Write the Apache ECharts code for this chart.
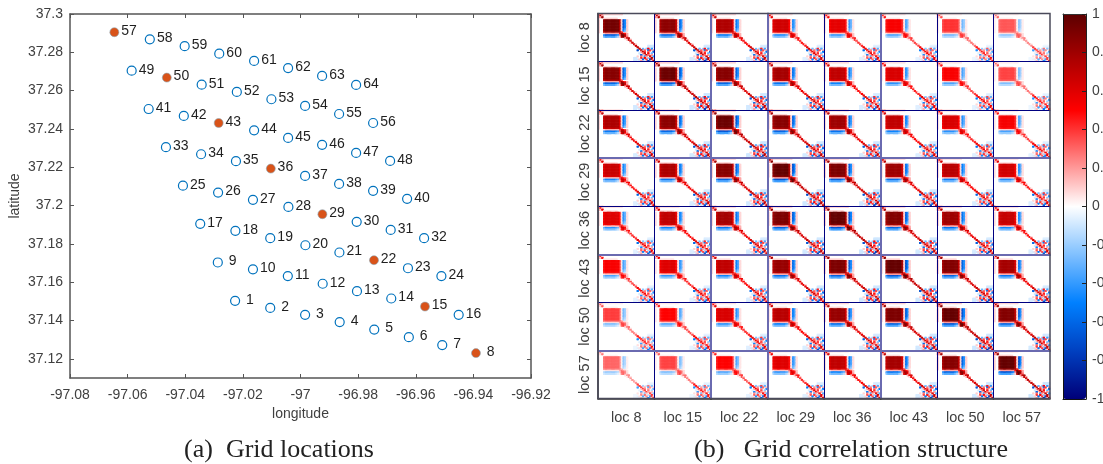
<!DOCTYPE html>
<html><head><meta charset="utf-8">
<style>html,body{margin:0;padding:0;background:#fff;overflow:hidden}#c{width:1103px;height:464px}</style>
<script src="https://cdn.jsdelivr.net/npm/echarts@6/dist/echarts.min.js"></script>
</head><body><div id="c"></div>
<script>
// ---------- Grid locations (panel a) ----------
const gridIds = [1,2,3,4,5,6,7,8,9,10,11,12,13,14,15,16,17,18,19,20,21,22,23,24,25,26,27,28,29,30,31,32,33,34,35,36,37,38,39,40,41,42,43,44,45,46,47,48,49,50,51,52,53,54,55,56,57,58,59,60,61,62,63,64];
const lons = [-97.0227,-97.0105,-96.9984,-96.9864,-96.9744,-96.9624,-96.9508,-96.9391,
 -97.0287,-97.0165,-97.0044,-96.9923,-96.9804,-96.9685,-96.9568,-96.9451,
 -97.0348,-97.0226,-97.0105,-96.9983,-96.9865,-96.9745,-96.9627,-96.9511,
 -97.0408,-97.0286,-97.0165,-97.0042,-96.9924,-96.9805,-96.9687,-96.9571,
 -97.0467,-97.0345,-97.0224,-97.0103,-96.9984,-96.9866,-96.9748,-96.9630,
 -97.0527,-97.0405,-97.0284,-97.0161,-97.0043,-96.9925,-96.9807,-96.9689,
 -97.0586,-97.0464,-97.0343,-97.0221,-97.0101,-96.9984,-96.9866,-96.9748,
 -97.0646,-97.0523,-97.0402,-97.0282,-97.0161,-97.0043,-96.9925,-96.9807];
const lats = [37.1503,37.1466,37.1430,37.1392,37.1353,37.1313,37.1272,37.1230,
 37.1703,37.1667,37.1632,37.1592,37.1553,37.1515,37.1473,37.1430,
 37.1905,37.1868,37.1830,37.1793,37.1755,37.1715,37.1673,37.1632,
 37.2104,37.2068,37.2030,37.1993,37.1955,37.1915,37.1873,37.1830,
 37.2305,37.2268,37.2232,37.2193,37.2155,37.2113,37.2077,37.2035,
 37.2504,37.2468,37.2431,37.2393,37.2353,37.2317,37.2275,37.2233,
 37.2704,37.2668,37.2631,37.2593,37.2555,37.2520,37.2478,37.2431,
 37.2905,37.2868,37.2832,37.2793,37.2755,37.2718,37.2677,37.2630];
const highlighted = [8,15,22,29,36,43,50,57];
const lonTicks = [-97.08,-97.06,-97.04,-97.02,-97,-96.98,-96.96,-96.94,-96.92];
const latTicks = [37.12,37.14,37.16,37.18,37.2,37.22,37.24,37.26,37.28,37.3];

// ---------- Correlation structure (panel b) ----------
const locNames = ['loc 8','loc 15','loc 22','loc 29','loc 36','loc 43','loc 50','loc 57'];
// block strength of each of the 8x8 panels, read from its red block
const panelLevels = [
 [.93,.85,.75,.65,.58,.52,.40,.33],
 [.87,.95,.87,.78,.70,.62,.52,.37],
 [.76,.85,.95,.87,.80,.70,.62,.53],
 [.67,.76,.87,.97,.90,.80,.72,.65],
 [.60,.70,.78,.90,.97,.88,.80,.68],
 [.52,.60,.70,.82,.90,.97,.88,.78],
 [.38,.50,.62,.72,.82,.90,.97,.88],
 [.30,.37,.50,.60,.70,.78,.87,.97]];
// strength of the speckled lower-right corner, by panel distance from the diagonal
const speckleLevels = [1,.95,.9,.85,.8,.75,.65,.55];
// one matrix layout: . = 0, a..j = +0.1..+1, A..J = -0.1..-1
const matrixRows = [
 "ibcaaaaaaaaaaa..................",
 "bhb.............................",
 "cbi.............................",
 "...aaaaaaaa.....................",
 "a..ijjjjjjjjhaGEa...............",
 "a..ijjjjjjjjhaGEa...............",
 "a..ijjjjjjjjhaGEa...............",
 "a..ijjjjjjjjhaGEa...............",
 "a..ijjjjjjjjhaGEa...............",
 "a..ijjjjjjjjhaGEa...............",
 "a..ijjjjjjjjhaFDa...............",
 "a..ijjjjjjjjhaECa...............",
 "a..hiiiiiiiihd..................",
 "...abbbbbbbbeigeb...............",
 "...EGGGGGGFEcjjhb...............",
 "...CDDDDDDCBahjgc...............",
 "...............bgh..............",
 "................agb.............",
 "..................g.............",
 "..................ag............",
 "....................ga..........",
 ".....................g......AAAA",
 "......................g.....AAAA",
 ".......................g.C.Be.D.",
 "......................G.g.c.Fd.b",
 "........................bgd.c..F",
 ".......................A.bg.e.C.",
 "........................F.bgc.b.",
 "......................a.c.Db.g.D",
 "....................AA..d.e.Bbg.",
 "....................AAAa.F.d.Ggb",
 "....................AA.Ab.A.H.ag"];
// each layout cell is drawn as this many finer matrix cells per side
const cellsPerLayoutCell = 2;
// frame line between panels: navy or lavender as resampled in the picture
const rowLines = [['#000080',1],['#000080',1],['#6a6ab0',2],['#000080',1],['#6a6ab0',2],['#000080',1],['#6a6ab0',2],['#333333',1.5]];
const colLines = [['#333333',1.5],['#000080',1],['#6a6ab0',2],['#6a6ab0',2],['#000080',1],['#6a6ab0',2],['#000080',1],['#000080',1]];
const colorStops = ['#000078','#0040c0','#0080ff','#80c0ff','#ffffff','#ff8080','#ff0000','#b00000','#5c0000'];
const cbTicks = [-1,-0.8,-0.6,-0.4,-0.2,0,0.2,0.4,0.6,0.8,1];

function charValue(ch){
  if(ch==='.'||ch===undefined) return 0;
  const lo='abcdefghij'.indexOf(ch);
  if(lo>=0) return (lo+1)/10;
  return -('ABCDEFGHIJ'.indexOf(ch)+1)/10;
}
function panelData(i,j){
  const out=[], L=panelLevels[i][j], S=speckleLevels[Math.abs(i-j)], k=cellsPerLayoutCell;
  matrixRows.forEach((row,r)=>{
    for(let c=0;c<row.length;c++){
      const b=charValue(row[c]);
      if(b===0) continue;
      const v=+(b*(r>=22&&c>=22?S:L)).toFixed(3);
      for(let a=0;a<k;a++)for(let d=0;d<k;d++) out.push([c*k+d,r*k+a,v]);
    }
  });
  return out;
}

const axisGrey='#555555', textGrey='#404040', labelFont='"Liberation Sans",Arial,sans-serif';
const cats=[];for(let q=0;q<matrixRows.length*cellsPerLayoutCell;q++)cats.push(q);
const P={left:598,top:13.5,w:56.5,h:48.15};

const grids=[{left:70,top:14,width:461,height:364,show:false,outerBoundsMode:'none'},{left:1063,top:14,width:23,height:385,show:false,outerBoundsMode:'none'}];
const tickStyle={show:true,inside:true,length:4,lineStyle:{color:axisGrey}};
const lineStyle={show:true,onZero:false,lineStyle:{color:axisGrey,width:1.5}};
const xAxes=[
 {gridIndex:0,type:'value',min:-97.08,max:-96.92,axisLine:lineStyle,axisTick:{...tickStyle,customValues:lonTicks},splitLine:{show:false},
  axisLabel:{customValues:lonTicks,color:textGrey,fontFamily:labelFont,fontSize:14,margin:10,formatter:v=>String(v),hideOverlap:false,showMinLabel:true,showMaxLabel:true},
  name:'longitude',nameLocation:'middle',nameGap:28,nameTextStyle:{color:textGrey,fontFamily:labelFont,fontSize:14}},
 {gridIndex:0,type:'value',position:'top',min:-97.08,max:-96.92,axisLine:lineStyle,axisTick:{...tickStyle,customValues:lonTicks},axisLabel:{show:false},splitLine:{show:false}},
 {gridIndex:1,type:'category',data:[0],z:20,axisLine:{show:true,onZero:false,lineStyle:{color:'#111',width:1}},axisTick:{show:false},axisLabel:{show:false}},
 {gridIndex:1,type:'category',position:'top',data:[0],z:20,axisLine:{show:true,onZero:false,lineStyle:{color:'#333',width:1}},axisTick:{show:false},axisLabel:{show:false}}];
const yAxes=[
 {gridIndex:0,type:'value',min:37.11,max:37.3,axisLine:lineStyle,axisTick:{...tickStyle,customValues:latTicks},splitLine:{show:false},
  axisLabel:{customValues:latTicks,color:textGrey,fontFamily:labelFont,fontSize:14,margin:7,formatter:v=>String(v)},
  name:'latitude',nameLocation:'middle',nameGap:48,nameTextStyle:{color:textGrey,fontFamily:labelFont,fontSize:14}},
 {gridIndex:0,type:'value',position:'right',min:37.11,max:37.3,axisLine:lineStyle,axisTick:{...tickStyle,customValues:latTicks},axisLabel:{show:false},splitLine:{show:false}},
 {gridIndex:1,type:'value',position:'right',min:-1,max:1,axisLine:{show:true,onZero:false,lineStyle:{color:'#222',width:1}},axisTick:{show:true,inside:true,length:4,customValues:cbTicks,lineStyle:{color:'#222'}},splitLine:{show:false},z:20,
  axisLabel:{customValues:cbTicks,color:textGrey,fontFamily:labelFont,fontSize:14,margin:6,align:'left',formatter:v=>String(v)}},
 {gridIndex:1,type:'value',position:'left',min:-1,max:1,axisLine:{show:true,onZero:false,lineStyle:{color:'#111',width:1}},axisTick:{show:false},axisLabel:{show:false},splitLine:{show:false},z:20}];

const isHi=id=>highlighted.includes(id);
const pts=f=>gridIds.filter(f).map(id=>{const k=gridIds.indexOf(id);return {value:[lons[k],lats[k]],name:String(id)};});
const pointLabel={show:true,position:'right',distance:2,offset:[0,-1],color:'#1f1f1f',fontFamily:labelFont,fontSize:14,
  formatter:p=>(p.name.length<2?' ':'')+p.name};
const series=[
 {type:'scatter',name:'grid',xAxisIndex:0,yAxisIndex:0,data:pts(id=>!isHi(id)),symbol:'circle',symbolSize:9,
  itemStyle:{color:'#ffffff',borderColor:'#0072BD',borderWidth:1.2,opacity:1},label:pointLabel,silent:true},
 {type:'scatter',name:'selected',xAxisIndex:0,yAxisIndex:0,data:pts(isHi),symbol:'circle',symbolSize:9,
  itemStyle:{color:'#D95319',borderColor:'#8aa7b8',borderWidth:.6,opacity:1},label:pointLabel,silent:true},
 {type:'scatter',name:'cb',xAxisIndex:2,yAxisIndex:2,data:[],silent:true}];
const hmIdx=[];
for(let i=0;i<8;i++)for(let j=0;j<8;j++){
  const g=grids.length, left=P.left+j*P.w, top=P.top+i*P.h;
  grids.push({left,top,width:P.w,height:P.h,show:false,outerBoundsMode:'none'});
  const xName=i===7?{name:locNames[j],nameLocation:'middle',nameGap:12,nameTextStyle:{color:textGrey,fontFamily:labelFont,fontSize:14.5}}:{};
  const yName=j===0?{name:locNames[i],nameLocation:'middle',nameGap:6,nameRotate:90,nameTextStyle:{color:textGrey,fontFamily:labelFont,fontSize:14.5}}:{};
  xAxes.push({gridIndex:g,type:'category',data:cats,z:10,axisLine:{show:true,lineStyle:{color:rowLines[i][0],width:rowLines[i][1]}},axisTick:{show:false},axisLabel:{show:false},splitLine:{show:false},...xName});
  yAxes.push({gridIndex:g,type:'category',data:cats,inverse:true,z:10,axisLine:{show:true,lineStyle:{color:colLines[j][0],width:colLines[j][1]}},axisTick:{show:false},axisLabel:{show:false},splitLine:{show:false},...yName});
  hmIdx.push(series.length);
  series.push({type:'heatmap',xAxisIndex:xAxes.length-1,yAxisIndex:yAxes.length-1,data:panelData(i,j),silent:true,z:2});
}

const capFont={color:'#222',fontFamily:'"Liberation Serif","DejaVu Serif",serif',fontSize:26,fontWeight:'normal'};
const chart=echarts.init(document.getElementById('c'),null,{renderer:'canvas'});
chart.setOption({
  animation:false,backgroundColor:'#fff',
  title:[
   {text:'(a)  Grid locations',left:279,top:437,textAlign:'center',padding:0,textStyle:capFont},
   {text:'(b)   Grid correlation structure',left:851,top:437,textAlign:'center',padding:0,textStyle:capFont}],
  grid:grids,xAxis:xAxes,yAxis:yAxes,series,
  visualMap:{type:'continuous',min:-1,max:1,seriesIndex:hmIdx,dimension:2,left:1063,top:14,itemWidth:23,itemHeight:385,z:1,
    calculable:false,hoverLink:false,realtime:false,text:null,textGap:0,padding:0,inRange:{color:colorStops},showLabel:false},
  graphic:[{type:'rect',z:100,silent:true,shape:{x:598,y:13.5,width:452,height:385},style:{fill:null,stroke:'#4a4a5a',lineWidth:1.5}}]
});
</script></body></html>
